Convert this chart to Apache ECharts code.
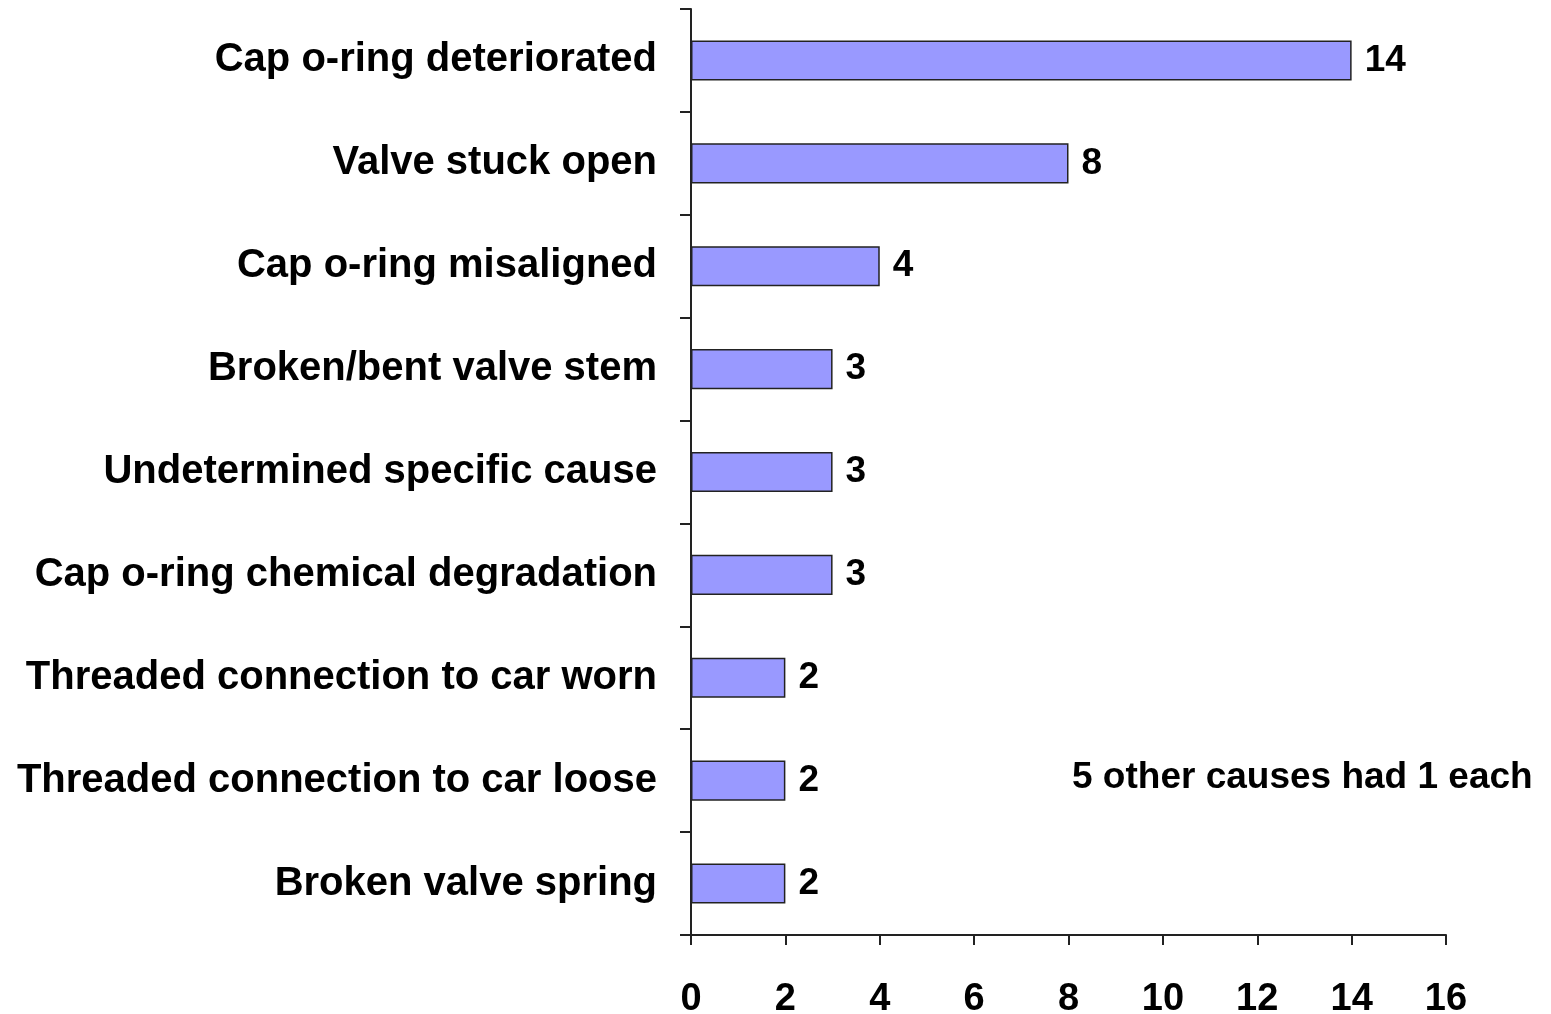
<!DOCTYPE html>
<html>
<head>
<meta charset="utf-8">
<script src="https://cdn.jsdelivr.net/npm/echarts@6/dist/echarts.min.js"></script>
<style>
  html, body { margin: 0; padding: 0; background: #fff; }
  #chart { width: 1551px; height: 1014px; }
</style>
</head>
<body>
<div id="chart"></div>
<script>
// 原因分类与数量
const causes = [
  "Cap o-ring deteriorated",
  "Valve stuck open",
  "Cap o-ring misaligned",
  "Broken/bent valve stem",
  "Undetermined specific cause",
  "Cap o-ring chemical degradation",
  "Threaded connection to car worn",
  "Threaded connection to car loose",
  "Broken valve spring",
];
const counts = [14, 8, 4, 3, 3, 3, 2, 2, 2];
const note = "5 other causes had 1 each";

let myChart = echarts.init(document.getElementById("chart"));
const font = "Liberation Sans, Arial, sans-serif";
let option = {
  animation: false,
  grid: { left: 691, right: 105, top: 9, bottom: 79, outerBoundsMode: "none", containLabel: false },
  xAxis: {
    type: "value",
    min: 0,
    max: 16,
    interval: 2,
    axisLine: { show: true, lineStyle: { color: "#222", width: 2 } },
    axisTick: { show: true, length: 10, lineStyle: { color: "#222", width: 2 } },
    splitLine: { show: false },
    axisLabel: {
      margin: 46,
      color: "#000",
      fontFamily: font,
      fontWeight: "bold",
      fontSize: 38,
    },
  },
  yAxis: {
    type: "category",
    inverse: true,
    data: causes,
    axisLine: { show: true, lineStyle: { color: "#222", width: 2 } },
    axisTick: { show: true, length: 11, lineStyle: { color: "#222", width: 2 } },
    axisLabel: {
      margin: 34,
      padding: [12, 0, 0, 0],
      color: "#000",
      fontFamily: font,
      fontWeight: "bold",
      fontSize: 40,
    },
  },
  series: [
    {
      type: "bar",
      data: counts,
      barWidth: "39%",
      itemStyle: { color: "#9999ff", borderColor: "#222", borderWidth: 1.5 },
      label: {
        show: true,
        position: "right",
        distance: 13,
        padding: [7, 0, 0, 0],
        color: "#000",
        fontFamily: font,
        fontWeight: "bold",
        fontSize: 37,
      },
    },
  ],
  graphic: [
    {
      type: "text",
      x: 1072,
      y: 778,
      style: {
        text: note,
        fill: "#000",
        font: "bold 37px " + font,
        verticalAlign: "middle",
      },
    },
  ],
};
myChart.setOption(option);
</script>
</body>
</html>
